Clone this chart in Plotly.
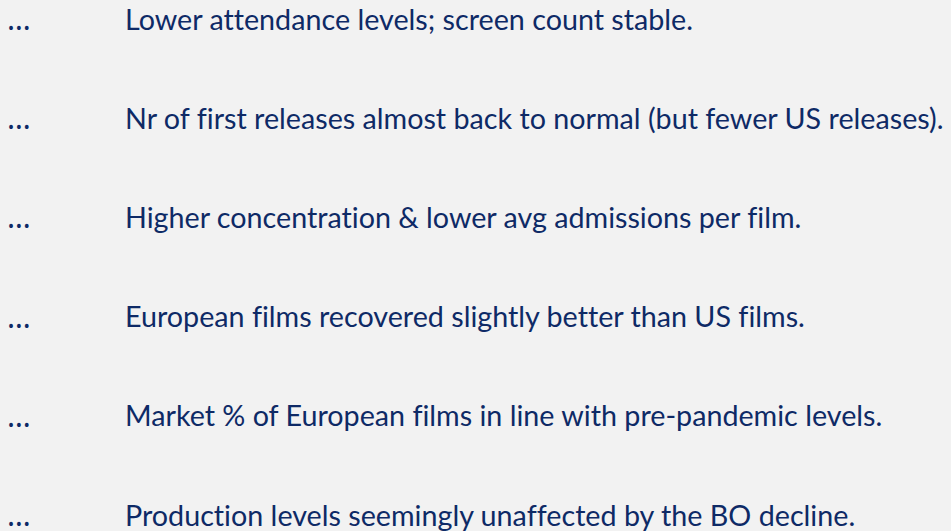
import plotly.graph_objects as go

# Data
rows = [0, 1, 2, 3, 4, 5]
bullets = ["…", "…", "…", "…", "…", "…"]
statements = [
    "Lower attendance levels; screen count stable.",
    "Nr of first releases almost back to normal (but fewer US releases).",
    "Higher concentration & lower avg admissions per film.",
    "European films recovered slightly better than US films.",
    "Market % of European films in line with pre-pandemic levels.",
    "Production levels seemingly unaffected by the BO decline.",
]

TEXT_COLOR = "#0e2a66"
BG = "#f2f2f2"
FONT = dict(family="Lato, 'Noto Sans', sans-serif", size=28.7, color=TEXT_COLOR)
BULLET_FONT = dict(family="'Noto Sans', sans-serif", size=30, color=TEXT_COLOR)

fig = go.Figure()
fig.add_trace(go.Scatter(
    x=[7] * len(rows), y=rows, mode="text", text=bullets,
    textposition="middle right", textfont=BULLET_FONT, hoverinfo="skip", showlegend=False,
))
fig.add_trace(go.Scatter(
    x=[125] * len(rows), y=rows, mode="text", text=statements,
    textposition="middle right", textfont=FONT, hoverinfo="skip", showlegend=False,
))

W, H = 951, 531
y0, step = 22.5, 99.2
fig.update_layout(
    width=W, height=H,
    margin=dict(l=0, r=0, t=0, b=0),
    paper_bgcolor=BG, plot_bgcolor=BG,
    xaxis=dict(range=[0, W], visible=False, fixedrange=True),
    yaxis=dict(range=[(H - y0) / step, -y0 / step], visible=False, fixedrange=True),
    showlegend=False,
)
fig.write_html(
    "out.html",
    config={"displayModeBar": False},
    post_script=(
        "document.body.style.margin='0';document.body.style.overflow='hidden';"
        "document.querySelectorAll('text').forEach(function(t){t.style.fontVariantLigatures='none';});"
    ),
)
